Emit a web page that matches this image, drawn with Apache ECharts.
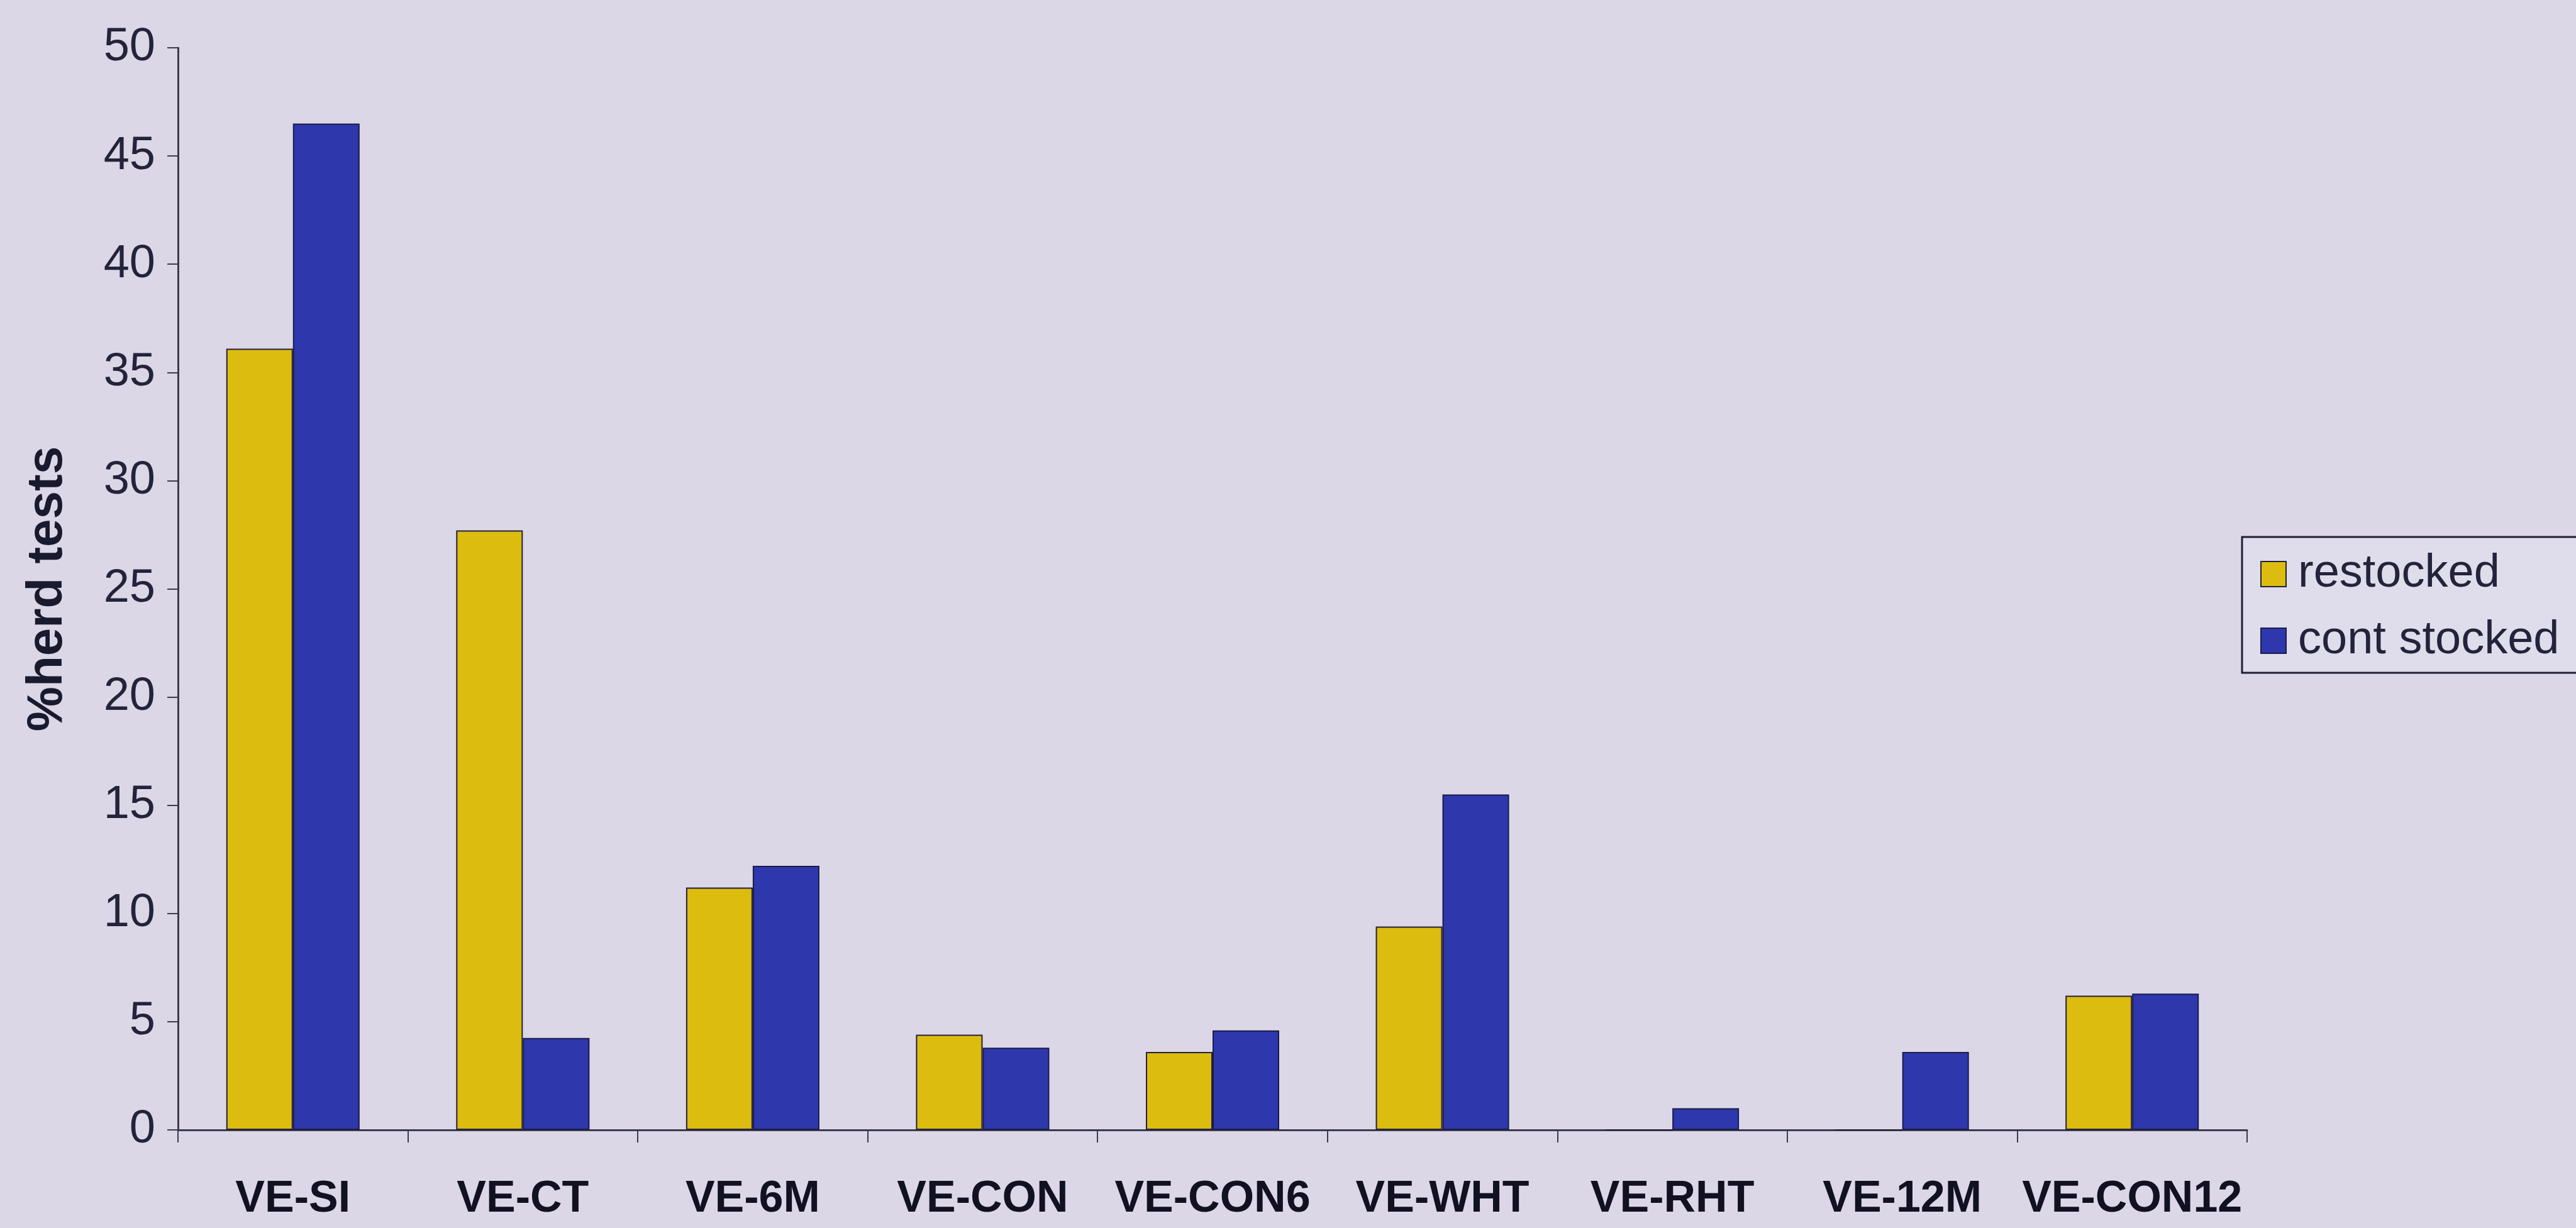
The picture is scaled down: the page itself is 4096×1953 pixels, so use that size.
<!DOCTYPE html>
<html>
<head>
<meta charset="utf-8">
<title>Herd tests by category</title>
<script src="https://cdn.jsdelivr.net/npm/echarts@6/dist/echarts.min.js"></script>
<style>
  html, body { margin: 0; padding: 0; background: #dbd7e7; }
  #chart { width: 4096px; height: 1953px; }
</style>
</head>
<body>
<div id="chart"></div>
<script>
// Categories along the x axis
const categories = ['VE-SI', 'VE-CT', 'VE-6M', 'VE-CON', 'VE-CON6', 'VE-WHT', 'VE-RHT', 'VE-12M', 'VE-CON12'];

// Percentage of herd tests per category
const restocked = [36.1, 27.7, 11.2, 4.4, 3.6, 9.4, 0, 0, 6.2];
const contStocked = [46.5, 4.25, 12.2, 3.8, 4.6, 15.5, 1.0, 3.6, 6.3];

// Value axis ticks
const yMin = 0;
const yMax = 50;
const yStep = 5;

const FONT = '"Liberation Sans", Arial, sans-serif';
const AXIS_COLOR = '#3a3a4c';
const TEXT_COLOR = '#23233a';

const chart = echarts.init(document.getElementById('chart'), null, { renderer: 'canvas' });

chart.setOption({
  backgroundColor: '#dbd7e7',
  animation: false,
  grid: { left: 283, right: 523, top: 76, bottom: 156, containLabel: false },
  legend: {
    orient: 'vertical',
    left: 3565,
    top: 854,
    icon: 'rect',
    itemWidth: 40,
    itemHeight: 40,
    itemGap: 32,
    padding: [22, 100, 14, 29],
    borderColor: '#1f1f36',
    borderWidth: 3,
    backgroundColor: '#dfdcec',
    textStyle: { fontFamily: FONT, fontSize: 74, color: TEXT_COLOR, padding: [0, 0, 0, 14] },
    data: ['restocked', 'cont stocked']
  },
  xAxis: {
    type: 'category',
    data: categories,
    axisLine: { lineStyle: { color: AXIS_COLOR, width: 3 } },
    axisTick: { show: true, length: 20, lineStyle: { color: AXIS_COLOR, width: 2 } },
    axisLabel: {
      interval: 0,
      margin: 76,
      fontFamily: FONT,
      fontSize: 70,
      fontWeight: 'bold',
      color: '#111122'
    },
    splitLine: { show: false }
  },
  yAxis: {
    type: 'value',
    min: yMin,
    max: yMax,
    interval: yStep,
    name: '%herd tests',
    nameLocation: 'middle',
    nameGap: 167,
    nameTextStyle: { fontFamily: FONT, fontSize: 80, fontWeight: 'bold', color: '#1a1a2e' },
    axisLine: { show: true, lineStyle: { color: AXIS_COLOR, width: 3 } },
    axisTick: { show: true, length: 17, lineStyle: { color: AXIS_COLOR, width: 2 } },
    axisLabel: { margin: 36, fontFamily: FONT, fontSize: 74, color: TEXT_COLOR },
    splitLine: { show: false }
  },
  series: [
    {
      name: 'restocked',
      type: 'bar',
      data: restocked,
      barGap: '0%',
      barCategoryGap: '42%',
      itemStyle: { color: '#dcbc0e', borderColor: '#23213a', borderWidth: 2 }
    },
    {
      name: 'cont stocked',
      type: 'bar',
      data: contStocked,
      barGap: '0%',
      barCategoryGap: '42%',
      itemStyle: { color: '#2f37ad', borderColor: '#1a1c48', borderWidth: 2 }
    }
  ]
});
</script>
</body>
</html>
